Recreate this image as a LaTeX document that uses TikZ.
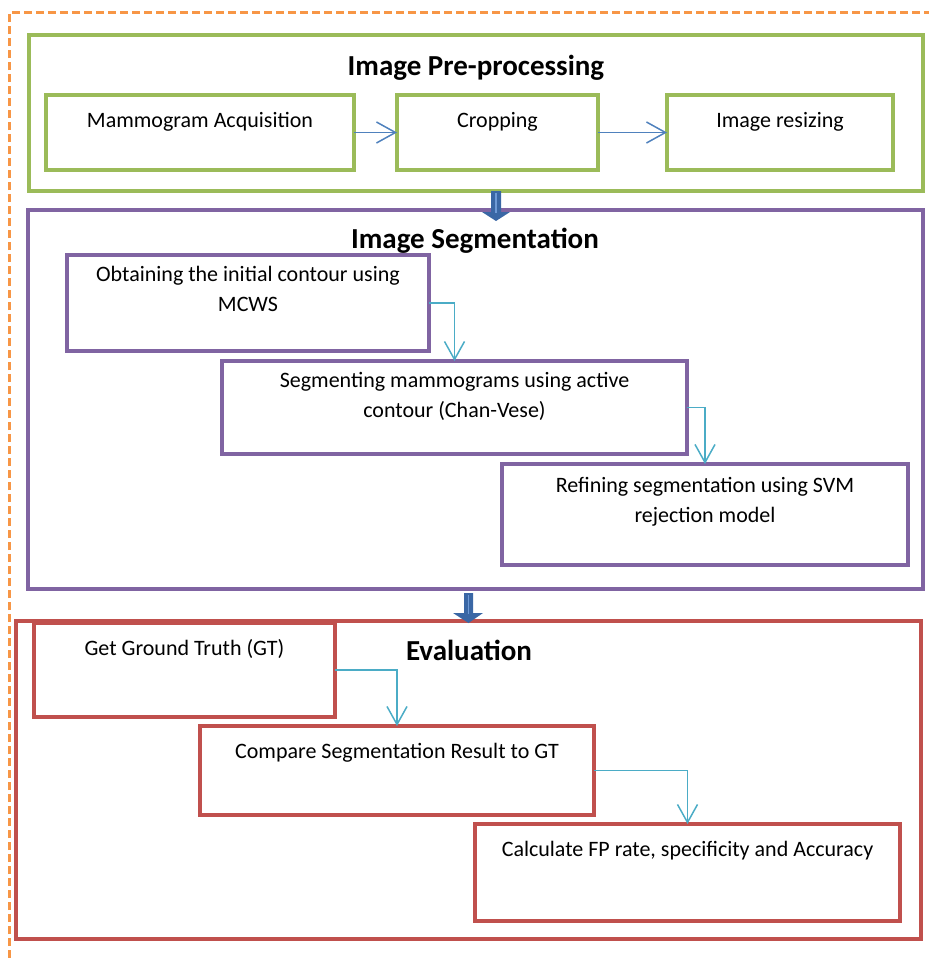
\documentclass[tikz,border=0pt]{standalone}
\usepackage{fontspec}
\setmainfont{Carlito}
\usetikzlibrary{arrows.meta}
\definecolor{grn}{HTML}{9BBB59}
\definecolor{prp}{HTML}{8064A2}
\definecolor{rd}{HTML}{C0504D}
\definecolor{org}{HTML}{F79646}
\definecolor{blu}{HTML}{4F81BD}
\definecolor{cyn}{HTML}{4BACC6}
\definecolor{darr}{HTML}{3A67A5}
\definecolor{larr}{HTML}{6E9AD6}
\begin{document}
\begin{tikzpicture}[x=1pt,y=-1pt,
  box/.style={draw=#1, line width=4pt, rectangle, inner sep=0pt, outer sep=0pt},
  ttl/.style={font=\fontsize{29}{34}\selectfont\bfseries, anchor=base, inner sep=0pt},
  txt/.style={font=\fontsize{22}{30}\selectfont, align=center, anchor=north, inner sep=0pt,
    execute at begin node=\strut},
  garrow/.style={draw=blu, line width=1.5pt, -{Straight Barb[length=19pt,width=21pt]}},
  carrow/.style={draw=cyn, line width=1.5pt, -{Straight Barb[length=18pt,width=20pt]}},
  bigarrow/.style={fill=darr},
  stripe/.style={draw=larr, line width=1.5pt}
]
\useasboundingbox (0,0) rectangle (929,958);
% outer dashed frame
\draw[org, line width=3pt, dash pattern=on 8pt off 4pt] (9,958) -- (9,13) -- (929,13);

% --- Image Pre-processing
\node[box=grn, minimum width=894pt, minimum height=156pt] (gout) at (476,113) {};
\node[ttl] (gt) at (476,75) {Image Pre-processing};
\node[box=grn, minimum width=308pt, minimum height=75pt] (g1) at (200,132.5) {};
\node[box=grn, minimum width=201pt, minimum height=75pt] (g2) at (497.5,132.5) {};
\node[box=grn, minimum width=226pt, minimum height=75pt] (g3) at (780,132.5) {};
\node[txt] (g1t) at ([yshift=-11pt]g1.north) {Mammogram Acquisition};
\node[txt] (g2t) at ([yshift=-11pt]g2.north) {Cropping};
\node[txt] (g3t) at ([yshift=-11pt]g3.north) {Image resizing};
\draw[garrow] (g1.east) -- (g2.west);
\draw[garrow] (g2.east) -- (g3.west);

% --- Image Segmentation
\node[box=prp, minimum width=895pt, minimum height=379pt] (pout) at (475.5,399.5) {};
\node[ttl] (pt) at (475,248) {Image Segmentation};
\node[box=prp, minimum width=362pt, minimum height=96pt] (p1) at (248,303) {};
\node[box=prp, minimum width=465pt, minimum height=93pt] (p2) at (454.5,407.5) {};
\node[box=prp, minimum width=406pt, minimum height=101pt] (p3) at (705,514.5) {};
\node[txt] (p1t) at ([yshift=-11pt]p1.north) {Obtaining the initial contour using\\MCWS};
\node[txt] (p2t) at ([yshift=-11pt]p2.north) {Segmenting mammograms using active\\contour (Chan-Vese)};
\node[txt] (p3t) at ([yshift=-13pt]p3.north) {Refining segmentation using SVM\\rejection model};
\draw[carrow] (p1.east) -| (p2.north);
\draw[carrow] (p2.east) -| (p3.north);

% --- Evaluation
\node[box=rd, line width=4.5pt, minimum width=905pt, minimum height=318pt] (rout) at (468.5,780) {};
\node[ttl] (rt) at (469,660) {Evaluation};
\node[box=rd, line width=4.5pt, minimum width=301pt, minimum height=94pt] (r1) at (184.5,670) {};
\node[box=rd, line width=4.5pt, minimum width=394pt, minimum height=89pt] (r2) at (397,770.5) {};
\node[box=rd, line width=4.5pt, minimum width=425pt, minimum height=97pt] (r3) at (687.5,872.5) {};
\node[txt] (r1t) at ([yshift=-11pt]r1.north) {Get Ground Truth (GT)};
\node[txt] (r2t) at ([yshift=-11pt]r2.north) {Compare Segmentation Result to GT};
\node[txt] (r3t) at ([yshift=-11pt]r3.north) {Calculate FP rate, specificity and Accuracy};
\draw[carrow] (r1.east) -| (r2.north);
\draw[carrow] (r2.east) -| (r3.north);

% --- block arrows between stages
\fill[bigarrow] (491,191) -- (501,191) -- (501,212) -- (510,212) -- (496,221) -- (482,212) -- (491,212) -- cycle;
\draw[stripe] (496,193) -- (496,213);
\fill[bigarrow] (464,593) -- (473,593) -- (473,613) -- (483,613) -- (468.5,623) -- (453,613) -- (464,613) -- cycle;
\draw[stripe] (468.5,595) -- (468.5,614);
\end{tikzpicture}
\end{document}
